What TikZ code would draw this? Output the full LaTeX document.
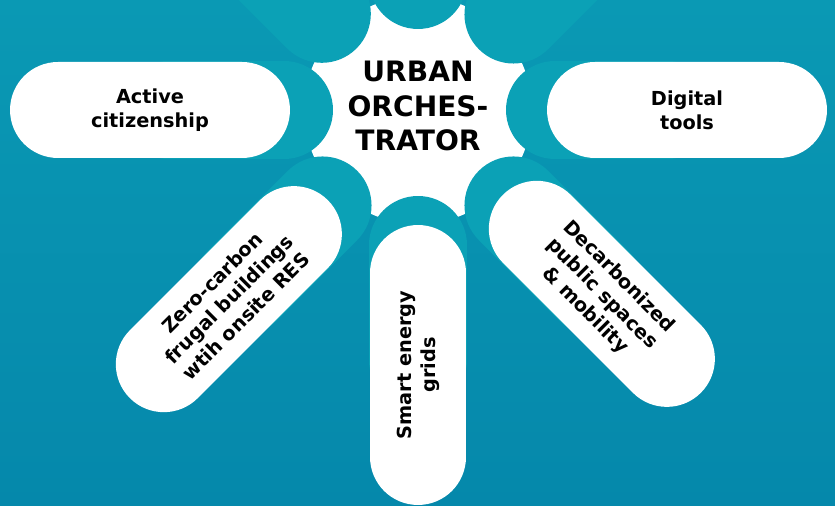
\documentclass[tikz,border=0pt]{standalone}
\usepackage{fontspec}
\setmainfont{DejaVu Sans}
\usepackage{tikz}
\usetikzlibrary{calc}
\usetikzlibrary{shapes.misc}

\definecolor{bgtop}{HTML}{0A99B4}
\definecolor{bgbottom}{HTML}{0588AB}
\definecolor{armteal}{HTML}{0BA1B6}

\tikzset{
    arm/.style={armteal,line width=1.96cm,line cap=round},
    pill/.style={rounded rectangle,fill=white,minimum width=5.6cm,minimum height=1.92cm,inner sep=0pt,align=center,font=\bfseries\fontsize{11}{13.6}\selectfont},
    hub/.style={align=center,font=\bfseries\fontsize{16}{19.6}\selectfont}
}

\begin{document}
\begin{tikzpicture}[x=0.02cm,y=0.02cm]
            \clip(0,0)rectangle(835,506);
            \shade[top color=bgtop,bottom color=bgbottom](0,0)rectangle(835,506);
            \coordinate (c) at (418,396);

            \fill[white](c)circle[radius=114];
            \foreach \ang/\from/\len in {0/137/250,45/135/600,90/130/600,135/136/600,180/134/250,225/135/250,270/135/250,315/135/250}
                \draw[arm]($(c)+(\ang:\from)$)--($(c)+(\ang:\len)$);

            \node[pill](active)at($(c)+(180:268)$){Active\\citizenship};
            \node[pill](digital)at($(c)+(0:269)$){Digital\\tools};
            \node[pill,rotate=45](zerocarbon)at($(c)+(225:267.5)$){Zero-carbon\\frugal buildings\\wtih onsite RES};
            \node[pill,rotate=90](smartgrid)at($(c)+(270:255)$){Smart energy\\grids};
            \node[pill,rotate=-45](decarb)at($(c)+(315:260)$){Decarbonized\\public spaces\\\& mobility};

            \node[hub](orch)at($(c)+(0,4)$){URBAN\\ORCHES-\\TRATOR};
        \end{tikzpicture}
\end{document}
